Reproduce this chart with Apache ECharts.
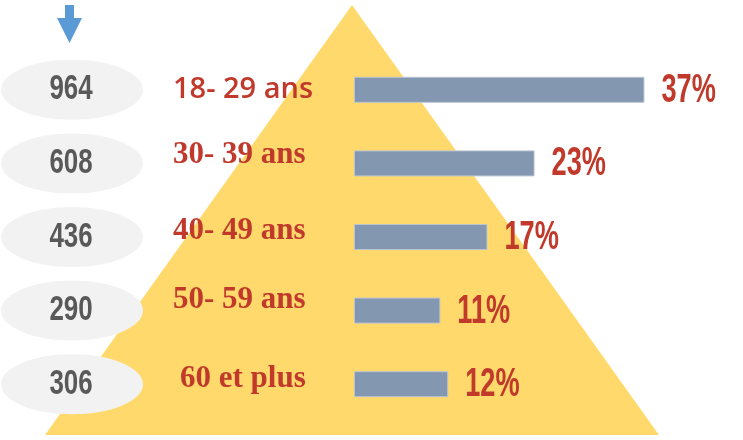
<!DOCTYPE html>
<html>
<head>
<meta charset="utf-8">
<script src="https://cdn.jsdelivr.net/npm/echarts@6/dist/echarts.min.js"></script>
<style>
  html, body { margin: 0; padding: 0; background: #fff; }
  #chart { width: 743px; height: 440px; }
</style>
</head>
<body>
<div id="chart"></div>
<script>
// tranches d'age, effectifs et parts
var ageGroups = ['18- 29 ans', '30- 39 ans', '40- 49 ans', '50- 59 ans', '60 et plus'];
var headcounts = [964, 608, 436, 290, 306];
var shares = [37, 23, 17, 11, 12];

var red = '#c0392b';
var serif = '"Liberation Serif", serif';

var chart = echarts.init(document.getElementById('chart'));

var option = {
  animation: false,
  backgroundColor: '#fff',
  graphic: [
    // pyramide
    {
      type: 'polygon',
      z: -10,
      shape: { points: [[352, 5], [45, 435], [659, 435]] },
      style: { fill: '#ffd96b' }
    },
    // fleche
    {
      type: 'polygon',
      z: 10,
      shape: { points: [[65, 5], [74, 5], [74, 18], [82, 18], [69.5, 43], [57, 18], [65, 18]] },
      style: { fill: '#5b9bd5' }
    }
  ],
  grid: [
    { left: 354, right: 75, top: 53, bottom: 19 },
    { left: 0, width: 146, top: 53, bottom: 19 }
  ],
  xAxis: [
    { type: 'value', min: 0, max: 40, show: false },
    { type: 'value', min: 0, max: 1, show: false, gridIndex: 1 }
  ],
  yAxis: [
    {
      type: 'category',
      data: ageGroups,
      inverse: true,
      axisLine: { show: false },
      axisTick: { show: false },
      splitLine: { show: false },
      axisLabel: {
        align: 'left',
        margin: 181,
        formatter: function (val, idx) {
          return '{r' + idx + '|' + val + '}';
        },
        rich: {
          r0: { fontFamily: '"Open Sans", "Liberation Sans", sans-serif', fontWeight: 600, fontSize: 29, color: red, padding: [0, 0, 0, 0] },
          r1: { fontFamily: serif, fontWeight: 'bold', fontSize: 31, color: red, padding: [0, 0, 16, 0] },
          r2: { fontFamily: serif, fontWeight: 'bold', fontSize: 31, color: red, padding: [0, 0, 12, 0] },
          r3: { fontFamily: serif, fontWeight: 'bold', fontSize: 31, color: red, padding: [0, 0, 22, 0] },
          r4: { fontFamily: serif, fontWeight: 'bold', fontSize: 31, color: red, padding: [0, 0, 10, 7] }
        }
      }
    },
    {
      type: 'category',
      data: ageGroups,
      inverse: true,
      gridIndex: 1,
      show: false
    }
  ],
  series: [
    {
      type: 'bar',
      data: shares,
      barWidth: 26,
      itemStyle: { color: '#8497b0', borderColor: '#b9c4d3', borderWidth: 1 }
    },
    // etiquettes % (texte resserre)
    {
      type: 'custom',
      data: shares.map(function (v, i) { return [v, i]; }),
      renderItem: function (params, api) {
        var p = api.coord([api.value(0), api.value(1)]);
        return {
          type: 'text',
          x: p[0] + 17,
          y: p[1] + 1,
          scaleX: 0.68,
          style: {
            text: api.value(0) + '%',
            fill: red,
            font: 'bold 40px "Liberation Sans", sans-serif',
            align: 'left',
            verticalAlign: 'middle'
          }
        };
      },
      z: 4
    },
    // bulles des effectifs
    {
      type: 'custom',
      xAxisIndex: 1,
      yAxisIndex: 1,
      data: headcounts.map(function (n, i) { return [0.5, i, n]; }),
      renderItem: function (params, api) {
        var p = api.coord([api.value(0), api.value(1)]);
        return {
          type: 'group',
          children: [
            {
              type: 'ellipse',
              shape: { cx: p[0] - 1, cy: p[1], rx: 71, ry: 30 },
              style: { fill: '#f2f2f2' }
            },
            {
              type: 'text',
              x: p[0] - 2,
              y: p[1],
              scaleX: 0.74,
              style: {
                text: String(api.value(2)),
                fill: '#595959',
                font: 'bold 35px "Liberation Sans", sans-serif',
                align: 'center',
                verticalAlign: 'middle'
              }
            }
          ]
        };
      },
      z: 3
    }
  ]
};

chart.setOption(option);
</script>
</body>
</html>
